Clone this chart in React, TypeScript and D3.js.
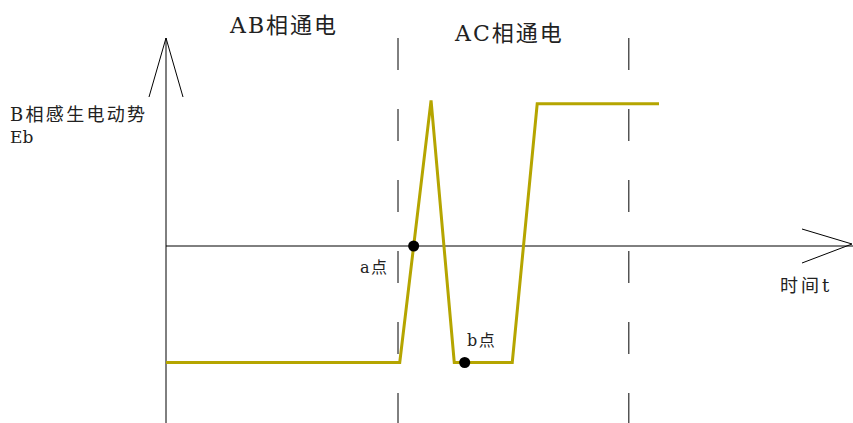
import React from 'react';
import * as d3 from 'd3';

// B-phase EMF waveform (time in arbitrary units, EMF normalised to the low level)
const times = [0, 4.03, 4.57, 4.97, 5.97, 6.4, 8.5];
const emf = [-1, -1, 1.25, -1, -1, 1.22, 1.22];
const markers = [
  { t: 4.27, v: 0, label: 'a点' },
  { t: 5.15, v: -1, label: 'b点' },
];
const phaseBounds = [4.0, 7.98];
const phaseLabels = ['AB相通电', 'AC相通电'];

const W = 853;
const H = 423;
const INK = '#000';
const LINE = '#b5a500';
const FONT = '"DejaVu Serif", "Noto Sans CJK SC", serif';

export default function App() {
  const x = d3.scaleLinear().domain([0, 8]).range([166, 630]);
  const y = d3.scaleLinear().domain([-1, 1]).range([362.5, 129.5]);

  const pts: [number, number][] = times.map((t, i) => [t, emf[i]]);
  const line = d3.line<[number, number]>().x(d => x(d[0])).y(d => y(d[1]));

  const x0 = x(0);
  const y0 = y(0);
  const xEnd = W;
  const yTop = 38;

  return (
    <svg width={W} height={H} style={{ position: 'absolute', left: 0, top: 0, background: '#fff' }}
      fontFamily={FONT}>
      {/* y axis with open arrow */}
      <line x1={x0} x2={x0} y1={yTop} y2={H} stroke={INK} strokeWidth={1} />
      <polyline points={`${x0 - 17},97 ${x0},${yTop} ${x0 + 17},97`} fill="none" stroke={INK} strokeWidth={1} />
      {/* x axis with open arrow */}
      <line x1={x0} x2={xEnd} y1={y0} y2={y0} stroke={INK} strokeWidth={1} />
      <polyline points={`802,${y0 - 17} ${xEnd - 1},${y0 - 2} 802,${y0 + 17}`} fill="none" stroke={INK} strokeWidth={1} />

      {/* phase boundaries */}
      {phaseBounds.map((t, i) => (
        <line key={i} x1={x(t)} x2={x(t)} y1={38} y2={H} stroke={INK} strokeWidth={1}
          strokeDasharray="32 39" />
      ))}

      {/* waveform */}
      <path d={line(pts) || ''} fill="none" stroke={LINE} strokeWidth={3} strokeLinejoin="miter" />

      {markers.map((m, i) => (
        <circle key={i} cx={x(m.t)} cy={y(m.v)} r={5.5} fill="#000" />
      ))}

      {/* labels */}
      <g fill="#222">
        <text x={230} y={33} fontSize={22} letterSpacing={2}>{phaseLabels[0]}</text>
        <text x={455} y={40.5} fontSize={22} letterSpacing={2}>{phaseLabels[1]}</text>
        <text x={10} y={121} fontSize={18} letterSpacing={2.3}>B相感生电动势</text>
        <text x={10} y={143} fontSize={17}>Eb</text>
        <text x={360} y={273} fontSize={16} letterSpacing={1.5}>{markers[0].label}</text>
        <text x={467} y={346} fontSize={16} letterSpacing={1.5}>{markers[1].label}</text>
        <text x={780} y={292} fontSize={18} letterSpacing={3}>时间t</text>
      </g>
    </svg>
  );
}
